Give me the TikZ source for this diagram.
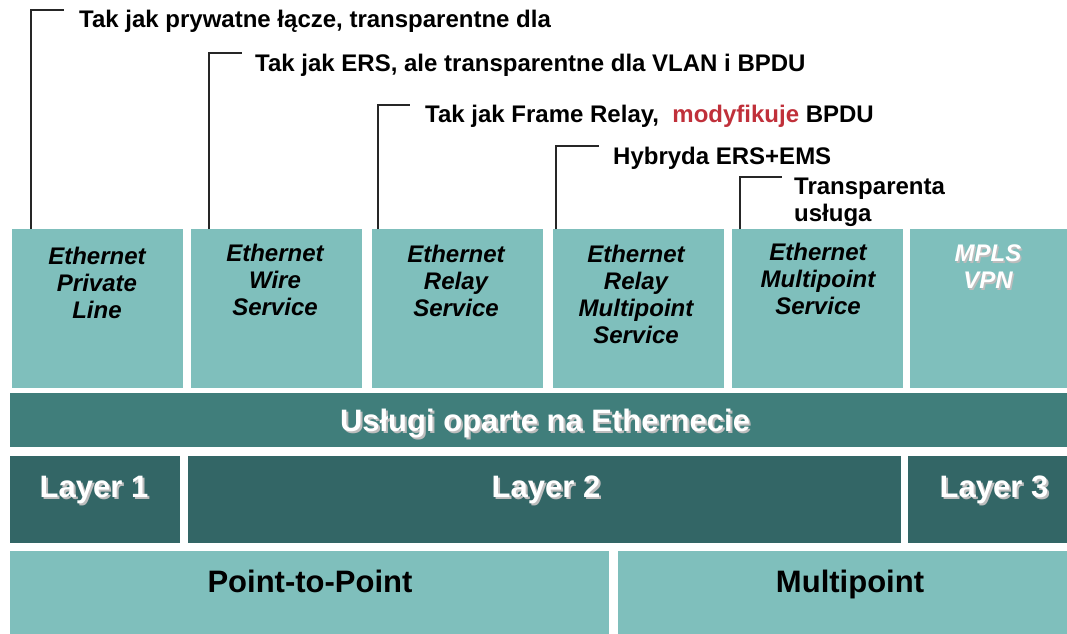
\documentclass[tikz,border=0pt]{standalone}
\usepackage{fontspec}
\setmainfont{Liberation Sans}
\definecolor{lt}{HTML}{7FBFBC}
\definecolor{bandc}{HTML}{407E7B}
\definecolor{layc}{HTML}{336666}
\definecolor{redc}{HTML}{C0303A}
\definecolor{shad}{HTML}{BDBDBD}
\begin{document}
\begin{tikzpicture}[x=1pt,y=-1pt,
  box/.style={draw=none,inner sep=0pt,outer sep=0pt,anchor=north west},
  svc/.style={box,fill=lt},
  svctext/.style={anchor=north,inner sep=0pt,align=center,font=\fontsize{24}{27}\selectfont\bfseries\itshape},
  anno/.style={anchor=north west,inner sep=0pt,align=left,font=\fontsize{24}{27}\selectfont\bfseries},
  big/.style={anchor=base,inner sep=0pt,font=\fontsize{31}{31}\selectfont\bfseries},
  lead/.style={draw=black!85,line width=1.1pt}
]
\useasboundingbox (0,0) rectangle (1067,633);

% service boxes
\node[svc,minimum width=171pt,minimum height=159pt] (b1) at (12,229) {};
\node[svc,minimum width=171pt,minimum height=159pt] (b2) at (191,229) {};
\node[svc,minimum width=171pt,minimum height=159pt] (b3) at (372,229) {};
\node[svc,minimum width=171pt,minimum height=159pt] (b4) at (553,229) {};
\node[svc,minimum width=171pt,minimum height=159pt] (b5) at (732,229) {};
\node[svc,minimum width=157pt,minimum height=159pt] (b6) at (910,229) {};

\node[svctext] (t1) at (97,247) {Ethernet\\Private\\Line};
\node[svctext] (t2) at (275,244) {Ethernet\\Wire\\Service};
\node[svctext] (t3) at (456,245) {Ethernet\\Relay\\Service};
\node[svctext] (t4) at (636,245) {Ethernet\\Relay\\Multipoint\\Service};
\node[svctext] (t5) at (818,243) {Ethernet\\Multipoint\\Service};
\node[svctext,text=shad] (t6s) at (989.5,246.5) {MPLS\\VPN};
\node[svctext,text=white] (t6) at (988,245) {MPLS\\VPN};

% band
\node[box,fill=bandc,minimum width=1057pt,minimum height=54pt] (band) at (10,393) {};
\node[big,text=shad] (bands) at (547,433) {Usługi oparte na Ethernecie};
\node[big,text=white] (bandt) at (545,431) {Usługi oparte na Ethernecie};

% layers
\node[box,fill=layc,minimum width=170pt,minimum height=87pt] (l1) at (10,456) {};
\node[box,fill=layc,minimum width=713pt,minimum height=87pt] (l2) at (188,456) {};
\node[box,fill=layc,minimum width=159pt,minimum height=87pt] (l3) at (908,456) {};
\node[big,text=shad] (l1s) at (96,499) {Layer 1};
\node[big,text=white] (l1t) at (94,497) {Layer 1};
\node[big,text=shad] (l2s) at (548,499) {Layer 2};
\node[big,text=white] (l2t) at (546,497) {Layer 2};
\node[big,text=shad] (l3s) at (996,499) {Layer 3};
\node[big,text=white] (l3t) at (994,497) {Layer 3};

% bottom
\node[box,fill=lt,minimum width=599pt,minimum height=83pt] (p1) at (10,551) {};
\node[box,fill=lt,minimum width=449pt,minimum height=83pt] (p2) at (618,551) {};
\node[big] (p1t) at (310,592) {Point-to-Point};
\node[big] (p2t) at (850,592) {Multipoint};

% annotations
\node[anno] (a1) at (79,10) {Tak jak prywatne łącze, transparentne dla};
\node[anno] (a2) at (255,54) {Tak jak ERS, ale transparentne dla VLAN i BPDU};
\node[anno] (a3) at (425,105) {Tak jak Frame Relay,\ \ \textcolor{redc}{modyfikuje} BPDU};
\node[anno] (a4) at (613,147) {Hybryda ERS+EMS};
\node[anno] (a5) at (794,178) {Transparenta\\usługa};

\coordinate (c1) at (31,10);  \coordinate (e1) at (64,10);
\coordinate (c2) at (209,53); \coordinate (e2) at (242,53);
\coordinate (c3) at (378,105); \coordinate (e3) at (410,105);
\coordinate (c4) at (556,146); \coordinate (e4) at (599,146);
\coordinate (c5) at (740,177); \coordinate (e5) at (782,177);

\draw[lead] (b1.north -| c1) -- (c1) -- (e1);
\draw[lead] (b2.north -| c2) -- (c2) -- (e2);
\draw[lead] (b3.north -| c3) -- (c3) -- (e3);
\draw[lead] (b4.north -| c4) -- (c4) -- (e4);
\draw[lead] (b5.north -| c5) -- (c5) -- (e5);
\end{tikzpicture}
\end{document}
